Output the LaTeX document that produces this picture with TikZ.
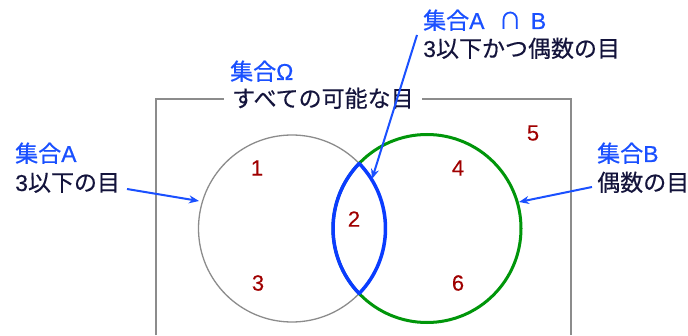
\documentclass[tikz,border=0pt]{standalone}
\usepackage{fontspec}
\setmainfont{Noto Sans CJK JP}
\newfontfamily\jpbody{Noto Sans CJK JP}[FakeBold=0.4]
\newfontfamily\jphead{Noto Sans CJK JP}[FakeBold=0.6]
\newfontfamily\latbody{Liberation Sans}[FakeBold=0.4]
\newfontfamily\lathead{Liberation Sans}[FakeBold=0.6]
\newfontfamily\latnum{Liberation Sans}[FakeBold=0.2]
\usetikzlibrary{arrows.meta}
\definecolor{hdblue}{HTML}{1A50FF}
\definecolor{navy}{HTML}{14143C}
\definecolor{numred}{HTML}{A00000}
\definecolor{gryline}{HTML}{8C8C8C}
\definecolor{grn}{HTML}{00960A}
\definecolor{lensblue}{HTML}{0A3CFF}
\tikzset{
  hd/.style={anchor=base west, inner sep=0pt, text=hdblue, font=\fontsize{23}{27}\jphead},
  bd/.style={anchor=base west, inner sep=0pt, text=navy, font=\fontsize{23}{27}\jpbody},
  num/.style={text=numred, inner sep=0pt, font=\fontsize{22}{26}\latnum},
  ptr/.style={draw=hdblue, line width=2pt, -{Stealth[length=10pt,width=8pt]}},
}
\begin{document}
\begin{tikzpicture}[x=1pt,y=1pt]
\useasboundingbox (0,0) rectangle (688,335);
\fill[white] (0,0) rectangle (688,335);
% universe
\coordinate (r1) at (156,0);
\coordinate (r2) at (156,236);
\coordinate (r3) at (571,236);
\coordinate (r4) at (571,0);
\draw[gryline, line width=1.3pt] (r1) -- (r2) -- (r3) -- (r4);
% circles
\coordinate (CA) at (292,106.5);
\coordinate (CB) at (427,106.5);
\draw[gryline, line width=1.3pt] (CA) circle[radius=93.5];
\draw[grn, line width=3pt] (CB) circle[radius=94];
% lens
\coordinate (P1) at (359.153,171.56);
\draw[lensblue, line width=3.5pt, line join=round]
  (P1) arc[start angle=136.21, end angle=223.79, radius=94]
       arc[start angle=-44.09, end angle=44.09, radius=93.5] -- cycle;
% numbers
\node[num] (n1) at (257,167) {1};
\node[num] (n2) at (354,116) {2};
\node[num] (n3) at (258,52) {3};
\node[num] (n4) at (458,167) {4};
\node[num] (n5) at (533,202) {5};
\node[num] (n6) at (458,52) {6};
% labels
\node[hd] (hO) at (230,255) {集合{\lathead Ω}};
\node[bd, fill=white, inner xsep=8pt, inner ysep=2pt] (bO) at (224,228) {すべての可能な目};
\node[hd] (hA) at (15,173) {集合{\lathead A}};
\node[bd] (bA) at (15,144) {{\latbody 3}以下の目};
\node[hd] (hB) at (597,173) {集合{\lathead B}};
\node[bd] (bB) at (597,144) {偶数の目};
\node[hd] (hAB) at (423,306) {集合{\lathead A}\hspace{9pt} ∩\hspace{4pt} {\lathead B}};
\node[bd] (bAB) at (423,278) {{\latbody 3}以下かつ偶数の目};
% pointers
\coordinate (sA) at (127,146);
\coordinate (tA) at (199,134);
\coordinate (sB) at (592,148);
\coordinate (tB) at (519,133);
\coordinate (sAB) at (417,300);
\coordinate (tAB) at (372,156);
\draw[ptr] (sA) -- (tA);
\draw[ptr] (sB) -- (tB);
\draw[ptr] (sAB) -- (tAB);
\end{tikzpicture}
\end{document}
